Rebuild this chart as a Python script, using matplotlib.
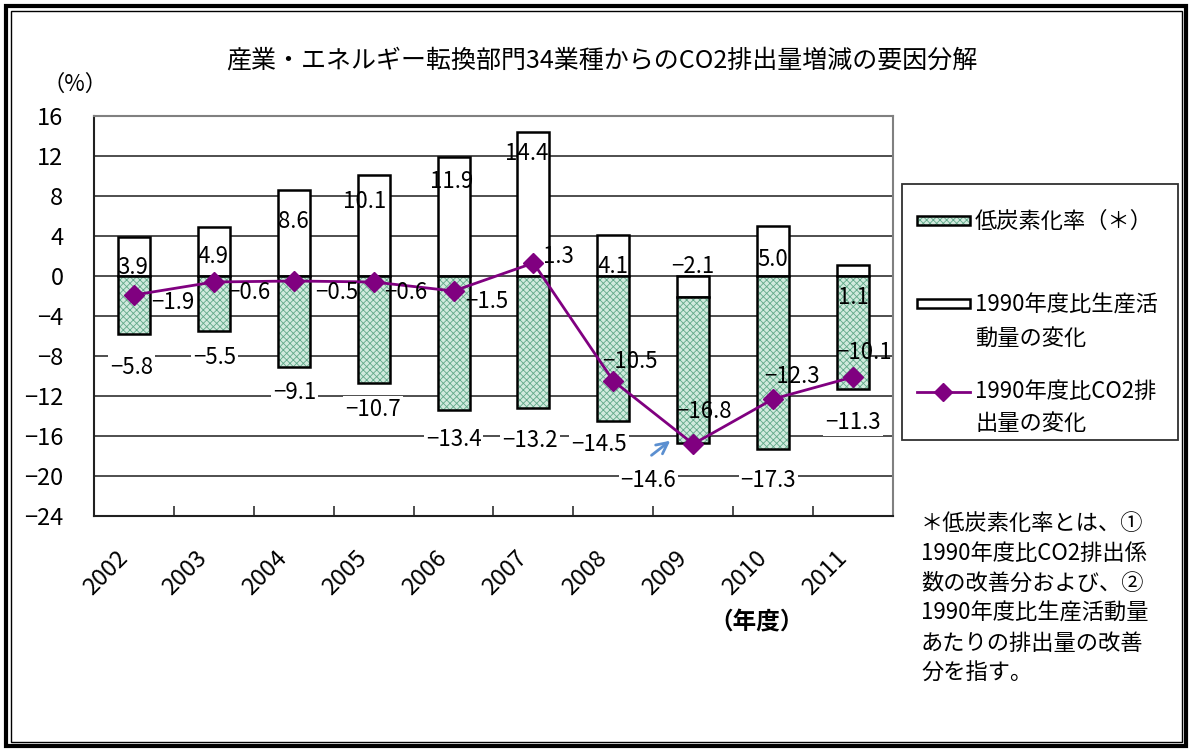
import matplotlib
matplotlib.use('Agg')
import matplotlib.pyplot as plt
from matplotlib.patches import Rectangle
from matplotlib.lines import Line2D
import matplotlib.transforms as mtransforms
import numpy as np

plt.rcParams['font.family'] = ['Noto Sans CJK JP', 'DejaVu Sans']
plt.rcParams['hatch.linewidth'] = 0.6

# ---------------- data ----------------
years = ['2002', '2003', '2004', '2005', '2006', '2007', '2008', '2009', '2010', '2011']
low_carbon = [-5.8, -5.5, -9.1, -10.7, -13.4, -13.2, -14.5, -14.6, -17.3, -11.3]
production = [3.9, 4.9, 8.6, 10.1, 11.9, 14.4, 4.1, -2.1, 5.0, 1.1]
co2_change = [-1.9, -0.6, -0.5, -0.6, -1.5, 1.3, -10.5, -16.8, -12.3, -10.1]
yticks = [16, 12, 8, 4, 0, -4, -8, -12, -16, -20, -24]

title = '産業・エネルギー転換部門34業種からのCO2排出量増減の要因分解'
ylabel = '（%）'
xlabel = '（年度）'
legend_labels = ['低炭素化率（＊）', '1990年度比生産活\n動量の変化', '1990年度比CO2排\n出量の変化']
footnote = ['＊低炭素化率とは、①', '1990年度比CO2排出係', '数の改善分および、②',
            '1990年度比生産活動量', 'あたりの排出量の改善', '分を指す。']

# label placement (dx in category units, y in value units)
prod_lbl_dx = [-0.01, -0.01, -0.01, -0.11, -0.03, -0.08, 0.0, 0.0, 0.0, 0.0]
prod_lbl_y = [0.8, 1.9, 5.4, 7.4, 9.4, 12.3, 0.9, 0.9, 1.6, -2.2]
low_lbl_dx = [-0.03, 0.01, 0.01, -0.01, 0.0, -0.04, -0.18, -0.56, -0.06, 0.0]
low_lbl_y = [-9.2, -8.2, -11.7, -13.4, -16.4, -16.5, -16.9, -20.5, -20.5, -14.7]
co2_lbl_dx = [0.49, 0.44, 0.54, 0.40, 0.41, 0.31, 0.21, 0.13, 0.23, 0.14]
co2_lbl_y = [-2.7, -1.7, -1.7, -1.7, -2.6, 1.9, -8.6, -13.6, -10.1, -7.7]

# ---------------- figure ----------------
W, H = 1191, 751
fig = plt.figure(figsize=(W / 100, H / 100), dpi=100)
fig.patch.set_facecolor('white')

def fx(px):
    return px / W

def fy(py):
    return 1 - py / H

ax = fig.add_axes([fx(94), fy(516), (893 - 94) / W, 400 / H])
x = np.arange(len(years))
ax.set_xlim(-0.5, len(years) - 0.5)
ax.set_ylim(-24, 16)

GREEN_FACE = '#d0eadd'
GREEN_HATCH = '#62a98a'
PURPLE = '#800080'

ax.bar(x, production, width=0.4, color='white', edgecolor='black', linewidth=1.8, zorder=3)
green_bottom = np.minimum(np.array(production), 0)
ax.bar(x, low_carbon, bottom=green_bottom, width=0.4, color=GREEN_FACE,
       edgecolor=GREEN_HATCH, hatch='xxxxx', linewidth=0, zorder=3)
ax.bar(x, low_carbon, bottom=green_bottom, width=0.4, fill=False,
       edgecolor='black', linewidth=1.8, zorder=4)

ax.plot(x, co2_change, color=PURPLE, linewidth=2, marker='D', markersize=10, zorder=5)

ax.set_yticks(yticks)
ax.set_yticklabels([str(t).replace('-', '−') for t in yticks], fontsize=17)
ax.yaxis.grid(True, color='#303030', linewidth=1.2)
ax.set_axisbelow(True)
ax.tick_params(axis='y', length=0, pad=22)

ax.set_xticks(x)
ax.set_xticklabels(years, fontsize=17, rotation=45, ha='right', va='center',
                   rotation_mode='anchor')
ax.set_xticks(np.arange(-0.5, len(years)), minor=True)
ax.tick_params(axis='x', which='major', length=0, pad=28)
ax.tick_params(axis='x', which='minor', direction='in', length=7, width=1.2, color='#303030')
shift = mtransforms.ScaledTranslation(-10 / 100, 0, fig.dpi_scale_trans)
for lbl in ax.get_xticklabels():
    lbl.set_transform(lbl.get_transform() + shift)

for side in ['top', 'right']:
    ax.spines[side].set_color('#808080')
    ax.spines[side].set_linewidth(1.5)
for side in ['left', 'bottom']:
    ax.spines[side].set_color('#202020')
    ax.spines[side].set_linewidth(1.5)

def fmt(v):
    return f'{v:.1f}'.replace('-', '−')

for i in range(len(years)):
    ax.text(i + prod_lbl_dx[i], prod_lbl_y[i], fmt(production[i]), ha='center', va='center',
            fontsize=16, zorder=7)
    ax.text(i + low_lbl_dx[i], low_lbl_y[i], fmt(low_carbon[i]), ha='center', va='center',
            fontsize=16, zorder=7,
            bbox=dict(facecolor='white', edgecolor='none', pad=1.5))
    ax.text(i + co2_lbl_dx[i], co2_lbl_y[i], fmt(co2_change[i]), ha='center', va='center',
            fontsize=16, zorder=7)

# arrow pointing at the 2009 low-carbon bar
ax.annotate('', xy=(6.74, -16.3), xytext=(6.45, -18.1),
            arrowprops=dict(arrowstyle='->', color='#5b8fd0', lw=2, mutation_scale=20),
            zorder=8)

# texts
fig.text(fx(226), fy(60), title, fontsize=18, ha='left', va='center')
fig.text(fx(75), fy(84), ylabel, fontsize=16, ha='center', va='center')
fig.text(fx(757), fy(622), xlabel, fontsize=17, ha='center', va='center', fontweight='bold')

# legend (manual)
fig.add_artist(Rectangle((fx(902), fy(440)), 276 / W, 256 / H, transform=fig.transFigure,
                         facecolor='white', edgecolor='#303030', linewidth=1.3))
fig.add_artist(Rectangle((fx(917), fy(225)), 53 / W, 9 / H, transform=fig.transFigure,
                         facecolor=GREEN_FACE, edgecolor=GREEN_HATCH, hatch='xxxxx', linewidth=0))
fig.add_artist(Rectangle((fx(917), fy(225)), 53 / W, 9 / H, transform=fig.transFigure,
                         fill=False, edgecolor='black', linewidth=1.8))
fig.add_artist(Rectangle((fx(917), fy(308)), 53 / W, 9 / H, transform=fig.transFigure,
                         facecolor='white', edgecolor='black', linewidth=1.8))
fig.add_artist(Line2D([fx(917), fx(970)], [fy(392), fy(392)], transform=fig.transFigure,
                      color=PURPLE, linewidth=2))
fig.add_artist(Line2D([fx(943)], [fy(392)], transform=fig.transFigure, color=PURPLE,
                      marker='D', markersize=9, linestyle='none'))
leg_rows = [[(legend_labels[0], 221)],
            [(legend_labels[1].split('\n')[0], 305), (legend_labels[1].split('\n')[1], 338)],
            [(legend_labels[2].split('\n')[0], 391), (legend_labels[2].split('\n')[1], 424)]]
for row in leg_rows:
    for txt, py in row:
        fig.text(fx(975), fy(py), txt, fontsize=16, ha='left', va='center')

# footnote
for k, line in enumerate(footnote):
    fig.text(fx(921), fy(523 + 30 * k), line, fontsize=16, ha='left', va='center')

# figure border
fig.add_artist(Rectangle((fx(6), fy(746)), (1186 - 6) / W, (746 - 6) / H, transform=fig.transFigure,
                         fill=False, edgecolor='black', linewidth=3))
fig.add_artist(Rectangle((fx(10.5), fy(741.5)), (1181.5 - 10.5) / W, (741.5 - 10.5) / H,
                         transform=fig.transFigure, fill=False, edgecolor='black', linewidth=1))

fig.savefig('out.png', dpi=100, facecolor='white')
